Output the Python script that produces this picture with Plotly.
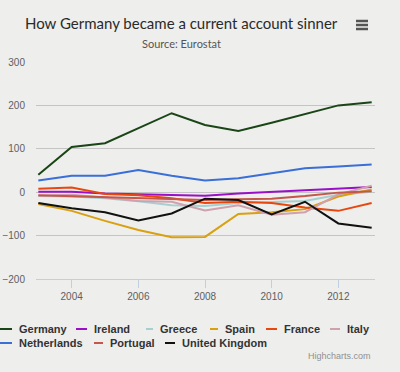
import plotly.graph_objects as go

years = list(range(2003, 2014))
germany = [40, 104, 113, 148, 182, 155, 141, 160, 180, 200, 207]
ireland = [1, 1, -3, -5, -7, -8, -3, 1, 4, 8, 12]
greece = [-9, -10, -14, -21, -30, -32, -25, -22, -20, -6, 1]
spain = [-27, -43, -66, -87, -104, -103, -50, -46, -39, -10, 6]
france = [8, 11, -4, -7, -14, -25, -22, -25, -35, -43, -25]
italy = [-8, -6, -12, -20, -22, -42, -30, -52, -46, -5, 15]
netherlands = [27, 38, 38, 51, 38, 27, 32, 44, 55, 59, 64]
portugal = [-7, -9, -12, -14, -16, -18, -16, -15, -9, -1, 2]
uk = [-25, -37, -46, -65, -49, -15, -18, -51, -22, -72, -82]

series = [
    ("Germany", germany, "#1a4516"),
    ("Ireland", ireland, "#9a10c8"),
    ("Greece", greece, "#a6d0d0"),
    ("Spain", spain, "#d9a010"),
    ("France", france, "#e8480f"),
    ("Italy", italy, "#cfa0ad"),
    ("Netherlands", netherlands, "#3a6fd8"),
    ("Portugal", portugal, "#c4564a"),
    ("United Kingdom", uk, "#111111"),
]

W, H = 400, 372
L, R, T, B = 36, 375, 62, 279
BG = "#eeeeec"


def pxx(x):
    return (x - L) / (R - L)


def pxy(y):
    return (B - y) / (B - T)


fig = go.Figure()
for name, vals, col in series:
    fig.add_trace(go.Scatter(x=years, y=vals, mode="lines", name=name,
                             line=dict(color=col, width=2), showlegend=False,
                             hoverinfo="skip"))

# manual legend (Highcharts style): (line start, row y, text start)
legend_pos = [
    (0, 329, 17), (76, 329, 92), (146, 329, 158), (210, 329, 223),
    (266, 329, 282), (330, 329, 345),
    (0, 343, 17), (94, 343, 108), (165, 343, 180),
]
shapes = []
annotations = []
for (name, vals, col), (lx, ly, tx) in zip(series, legend_pos):
    shapes.append(dict(type="line", xref="paper", yref="paper",
                       x0=pxx(lx), x1=pxx(tx - 5), y0=pxy(ly), y1=pxy(ly),
                       line=dict(color=col, width=2)))
    annotations.append(dict(text="<b>%s</b>" % name, xref="paper", yref="paper",
                            x=pxx(tx), y=pxy(ly), xanchor="left", yanchor="middle",
                            showarrow=False,
                            font=dict(family="Liberation Sans", size=11, color="#333333")))

# hamburger menu icon
for yy in (21, 25, 29):
    shapes.append(dict(type="line", xref="paper", yref="paper",
                       x0=pxx(356), x1=pxx(368), y0=pxy(yy), y1=pxy(yy),
                       line=dict(color="#555555", width=2.5)))

annotations.append(dict(text="How Germany became a current account sinner", xref="paper",
                        yref="paper", x=pxx(181), y=pxy(23), xanchor="center",
                        yanchor="middle", showarrow=False,
                        font=dict(family="Lato", size=15, color="#2a2a2a")))
annotations.append(dict(text="Source: Eurostat", xref="paper", yref="paper",
                        x=pxx(181), y=pxy(44), xanchor="center", yanchor="middle",
                        showarrow=False,
                        font=dict(family="Lato", size=11, color="#555555")))
annotations.append(dict(text="Highcharts.com", xref="paper", yref="paper",
                        x=pxx(373), y=pxy(356), xanchor="right", yanchor="middle",
                        showarrow=False,
                        font=dict(family="Liberation Sans", size=9, color="#909090")))

fig.update_layout(
    width=W, height=H,
    margin=dict(l=L, r=W - R, t=T, b=H - B, autoexpand=False),
    paper_bgcolor=BG, plot_bgcolor=BG,
    shapes=shapes, annotations=annotations,
    xaxis=dict(range=[2002.93, 2013.1], tickvals=[2004, 2006, 2008, 2010, 2012],
               showgrid=False, zeroline=False, showline=True, linecolor="#c0d0e0",
               linewidth=1, ticks="outside", ticklen=8, tickcolor="#c0d0e0",
               automargin=False,
               tickfont=dict(family="Liberation Sans", size=10, color="#606060")),
    yaxis=dict(range=[-200, 300], tickvals=[-200, -100, 0, 100, 200, 300],
               showgrid=True, gridcolor="#c4c4c4", gridwidth=1, zeroline=False,
               ticklabelstandoff=10, automargin=False,
               tickfont=dict(family="Liberation Sans", size=10, color="#606060")),
)

fig.write_html("out.html",
               config={"displayModeBar": False},
               post_script="document.body.style.margin='0';"
                           "document.body.style.background='%s';" % BG)
